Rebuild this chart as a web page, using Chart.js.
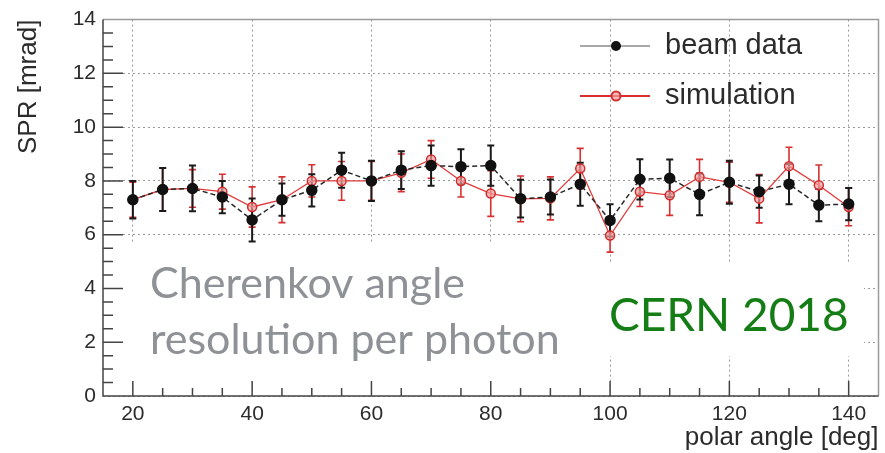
<!DOCTYPE html>
<html>
<head>
<meta charset="utf-8">
<script src="https://cdn.jsdelivr.net/npm/chart.js@4.4.0/dist/chart.umd.min.js"></script>
<style>
html, body { margin: 0; padding: 0; background: #fff; }
#divCanvas { width: 885px; height: 453px; }
</style>
</head>
<body>
<div id="divCanvas"><canvas id="graficoSPR" width="885" height="453"></canvas></div>
<script>
// polar angle of each measurement [deg]
var angulos = [20, 25, 30, 35, 40, 45, 50, 55, 60, 65, 70, 75, 80, 85, 90, 95, 100, 105, 110, 115, 120, 125, 130, 135, 140];
// beam data SPR [mrad] and its error
var sprDados = [7.3, 7.68, 7.72, 7.4, 6.55, 7.3, 7.65, 8.4, 8.0, 8.4, 8.57, 8.53, 8.57, 7.34, 7.4, 7.88, 6.53, 8.06, 8.1, 7.5, 7.95, 7.6, 7.88, 7.1, 7.14];
var erroDados = [0.7, 0.8, 0.85, 0.6, 0.8, 0.6, 0.6, 0.65, 0.75, 0.7, 0.75, 0.65, 0.75, 0.7, 0.65, 0.8, 0.6, 0.75, 0.7, 0.78, 0.8, 0.6, 0.75, 0.6, 0.6];
// simulation SPR [mrad] and its error
var sprSimulacao = [7.3, 7.68, 7.72, 7.6, 7.03, 7.3, 8.0, 8.0, 8.0, 8.3, 8.8, 8.0, 7.53, 7.33, 7.35, 8.46, 5.97, 7.6, 7.47, 8.15, 7.95, 7.34, 8.55, 7.84, 7.03];
var erroSimulacao = [0.65, 0.8, 0.7, 0.65, 0.75, 0.85, 0.6, 0.72, 0.72, 0.7, 0.7, 0.6, 0.85, 0.85, 0.8, 0.75, 0.62, 0.55, 0.75, 0.65, 0.75, 0.9, 0.7, 0.75, 0.7];
// tick labels
var ticksX = [20, 40, 60, 80, 100, 120, 140];
var ticksY = [0, 2, 4, 6, 8, 10, 12, 14];

var fonteEixo = "'Liberation Sans', Arial, Helvetica, sans-serif";
var corTexto = '#2b2b2b';

function pontos(xs, ys) {
	var p = [];
	for (var i = 0; i < xs.length; i++) {
		p.push({x: xs[i], y: ys[i]});
	}
	return p;
}

function barrasErro(ctx, escX, escY, xs, ys, erros, cor, largura) {
	ctx.strokeStyle = cor;
	ctx.lineWidth = largura;
	for (var i = 0; i < xs.length; i++) {
		var px = escX.getPixelForValue(xs[i]);
		var cima = escY.getPixelForValue(ys[i] + erros[i]);
		var baixo = escY.getPixelForValue(ys[i] - erros[i]);
		ctx.beginPath();
		ctx.moveTo(px, cima); ctx.lineTo(px, baixo);
		ctx.moveTo(px - 3.5, cima); ctx.lineTo(px + 3.5, cima);
		ctx.moveTo(px - 3.5, baixo); ctx.lineTo(px + 3.5, baixo);
		ctx.stroke();
	}
}

var estiloRoot = {
	id: 'estiloRoot',
	beforeDatasetsDraw: function(chart) {
		var ctx = chart.ctx;
		var escX = chart.scales.x, escY = chart.scales.y;
		ctx.save();
		// white boxes of the two notes cover the grid
		ctx.fillStyle = '#fff';
		ctx.fillRect(120, 242, 485, 142);
		ctx.fillRect(596, 262, 268, 94);
		ctx.textBaseline = 'alphabetic';
		ctx.textAlign = 'left';
		ctx.fillStyle = '#8e9195';
		ctx.font = "43px Lato, 'Open Sans', sans-serif";
		ctx.fillText('Cherenkov angle', 150, 298);
		ctx.fillText('resolution per photon', 150, 354);
		ctx.fillStyle = '#157d15';
		ctx.font = "46px Lato, 'Open Sans', sans-serif";
		ctx.fillText('CERN 2018', 609, 331);
		// error bars, below the markers
		barrasErro(ctx, escX, escY, angulos, sprSimulacao, erroSimulacao, '#d83030', 1.6);
		barrasErro(ctx, escX, escY, angulos, sprDados, erroDados, '#1a1a1a', 2);
		ctx.restore();
	},
	afterDraw: function(chart) {
		var ctx = chart.ctx;
		var area = chart.chartArea;
		var escX = chart.scales.x, escY = chart.scales.y;
		ctx.save();
		// frame
		ctx.strokeStyle = '#9a9a9a';
		ctx.lineWidth = 1.5;
		ctx.beginPath();
		ctx.moveTo(area.left, area.top); ctx.lineTo(area.right, area.top); ctx.lineTo(area.right, area.bottom);
		ctx.stroke();
		ctx.strokeStyle = '#444';
		ctx.beginPath();
		ctx.moveTo(area.left, area.top); ctx.lineTo(area.left, area.bottom); ctx.lineTo(area.right, area.bottom);
		ctx.stroke();
		// ticks drawn inside, like ROOT
		ctx.lineWidth = 1.5;
		ctx.beginPath();
		for (var v = 0.5; v < 14; v += 0.5) {
			var py = escY.getPixelForValue(v);
			var comp = (v % 2 === 0) ? 20 : 10;
			ctx.moveTo(area.left, py); ctx.lineTo(area.left + comp, py);
		}
		for (var a = 20; a <= 140; a += 5) {
			var px = escX.getPixelForValue(a);
			var compX = (a % 20 === 0) ? 15 : 8;
			ctx.moveTo(px, area.bottom); ctx.lineTo(px, area.bottom - compX);
		}
		ctx.stroke();
		// legend
		ctx.lineWidth = 2;
		ctx.strokeStyle = '#a8a8a8';
		ctx.beginPath(); ctx.moveTo(580, 46); ctx.lineTo(650, 46); ctx.stroke();
		ctx.fillStyle = '#111';
		ctx.beginPath(); ctx.arc(616, 46, 5, 0, Math.PI * 2); ctx.fill();
		ctx.strokeStyle = '#d83030';
		ctx.beginPath(); ctx.moveTo(580, 96); ctx.lineTo(650, 96); ctx.stroke();
		ctx.fillStyle = 'rgba(240,160,160,0.7)';
		ctx.beginPath(); ctx.arc(616, 96, 4.5, 0, Math.PI * 2); ctx.fill(); ctx.stroke();
		ctx.fillStyle = corTexto;
		ctx.font = '29px ' + fonteEixo;
		ctx.textBaseline = 'middle';
		ctx.fillText('beam data', 665, 46);
		ctx.fillText('simulation', 665, 96);
		ctx.restore();
	}
};

var grafico = new Chart(document.getElementById('graficoSPR'), {
	type: 'line',
	data: {
		datasets: [
			{
				label: 'beam data',
				data: pontos(angulos, sprDados),
				borderColor: '#262626',
				borderWidth: 1.5,
				borderDash: [5, 3],
				pointRadius: 5,
				pointBackgroundColor: '#111',
				pointBorderColor: '#111',
				tension: 0
			},
			{
				label: 'simulation',
				data: pontos(angulos, sprSimulacao),
				borderColor: '#e03a3a',
				borderWidth: 1.3,
				pointRadius: 4.5,
				pointBorderWidth: 1.5,
				pointBackgroundColor: 'rgba(240,160,160,0.7)',
				pointBorderColor: '#d42a2a',
				tension: 0
			}
		]
	},
	options: {
		responsive: false,
		animation: false,
		layout: { padding: { top: 12, right: 1, left: 0, bottom: 0 } },
		plugins: { legend: { display: false }, tooltip: { enabled: false } },
		scales: {
			x: {
				type: 'linear',
				min: 15,
				max: 145,
				afterBuildTicks: function(escala) {
					escala.ticks = ticksX.map(function(v) { return {value: v}; });
				},
				afterFit: function(escala) { escala.height = 57; },
				grid: { color: '#9a9a9a', lineWidth: 1, drawTicks: false },
				border: { display: false, dash: [2, 3] },
				ticks: { padding: 6, maxRotation: 0, color: corTexto, font: { size: 21, family: fonteEixo } },
				title: { display: true, text: 'polar angle [deg]', align: 'end', color: corTexto, font: { size: 26, family: fonteEixo }, padding: { top: 0, bottom: 0 } }
			},
			y: {
				min: 0,
				max: 14,
				afterBuildTicks: function(escala) {
					escala.ticks = ticksY.map(function(v) { return {value: v}; });
				},
				afterFit: function(escala) { escala.width = 103; },
				grid: { color: '#9a9a9a', lineWidth: 1, drawTicks: false },
				border: { display: false, dash: [2, 3] },
				ticks: { padding: 7, color: corTexto, font: { size: 21, family: fonteEixo } },
				title: { display: true, text: 'SPR [mrad]', align: 'end', color: corTexto, font: { size: 26, family: fonteEixo }, padding: { top: 13, bottom: 0 } }
			}
		}
	},
	plugins: [estiloRoot]
});
</script>
</body>
</html>
